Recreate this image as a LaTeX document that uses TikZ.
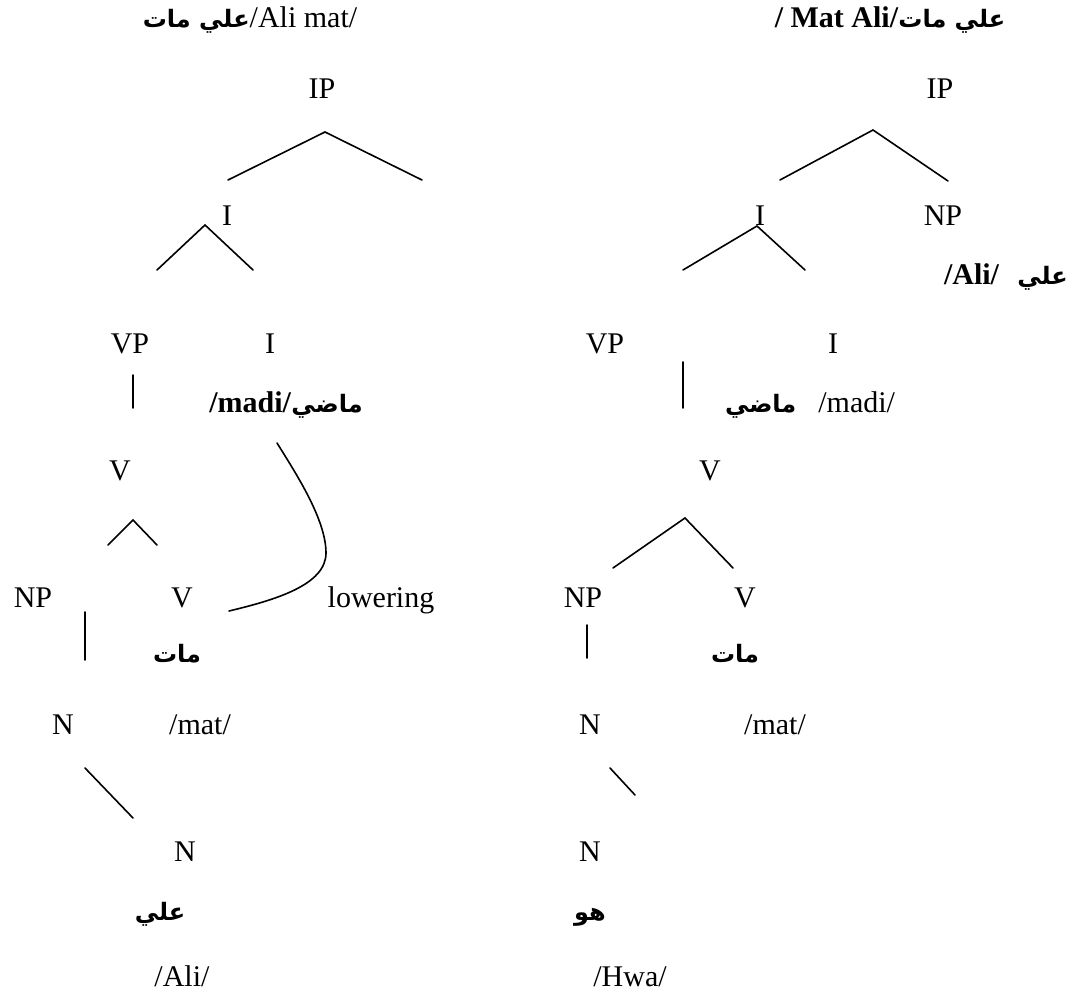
\documentclass[tikz,border=0pt]{standalone}
\usepackage{fontspec}
\setmainfont{Liberation Serif}
\newfontfamily\arabicfont[Script=Arabic]{DejaVu Sans}
\TeXXeTstate=1
\newcommand{\ar}[1]{{\arabicfont\bfseries\fontsize{24}{28}\selectfont\beginR #1\endR}}
\begin{document}
\begin{tikzpicture}[x=1pt,y=-1pt,
  lbl/.style={inner sep=0pt,anchor=base,font=\fontsize{30}{36}\selectfont},
  branch/.style={line width=1.6pt,line cap=round}]
\useasboundingbox (0,0) rectangle (1072,992);

% ---------- left tree: /Ali mat/ ----------
\node[lbl] (lt) at (250,28) {\ar{علي مات}/Ali mat/};
\node[lbl] (lip) at (322,99) {IP};
\coordinate (lipa) at (325,132);
\coordinate (lipl) at (228,180);
\coordinate (lipr) at (422,180);
\draw[branch] (lipl) -- (lipa) -- (lipr);

\node[lbl] (li) at (227,226) {I};
\coordinate (lia) at (205,225);
\coordinate (lil) at (157,270);
\coordinate (lir) at (253,270);
\draw[branch] (lil) -- (lia) -- (lir);

\node[lbl] (lvp) at (130,354) {VP};
\node[lbl] (li2) at (270,354) {I};
\node[lbl] (lmadi) at (286,413) {\textbf{/madi/}\ar{ماضي}};
\coordinate (lvpt) at (133,375);
\coordinate (lvpb) at (133,408);
\draw[branch] (lvpt) -- (lvpb);

\node[lbl] (lv) at (120,481) {V};
\coordinate (lva) at (133,520);
\coordinate (lvl) at (108,545);
\coordinate (lvr) at (157,545);
\draw[branch] (lvl) -- (lva) -- (lvr);

\node[lbl] (lnp) at (33,607) {NP};
\node[lbl] (lv2) at (182,607) {V};
\node[lbl] (low) at (381,607) {lowering};
\coordinate (lnpt) at (85,612);
\coordinate (lnpb) at (85,660);
\draw[branch] (lnpt) -- (lnpb);

% lowering path from the inflection head down to the verb
\coordinate (lws) at (277,443);
\coordinate (lwm) at (326,553);
\coordinate (lwe) at (229,611);
\draw[branch] (lws) .. controls (297,475) and (326,520) .. (lwm)
  .. controls (326,585) and (275,600) .. (lwe);

\node[lbl] (lmat) at (177,662) {\ar{مات}};
\node[lbl] (ln) at (63,734) {N};
\node[lbl] (lmatl) at (200,734) {/mat/};
\coordinate (lnt) at (85,768);
\coordinate (lnb) at (133,818);
\draw[branch] (lnt) -- (lnb);

\node[lbl] (ln2) at (185,861) {N};
\node[lbl] (lali) at (160,920) {\ar{علي}};
\node[lbl] (lalil) at (182,986) {/Ali/};

% ---------- right tree: /Mat Ali/ ----------
\node[lbl] (rt) at (890,28) {\textbf{/ Mat Ali/}\ar{علي مات}};
\node[lbl] (rip) at (940,99) {IP};
\coordinate (ripa) at (873,130);
\coordinate (ripl) at (780,180);
\coordinate (ripr) at (948,181);
\draw[branch] (ripl) -- (ripa) -- (ripr);

\node[lbl] (ri) at (760,226) {I};
\node[lbl] (rnp) at (943,226) {NP};
\node[lbl,anchor=base east] (rali) at (1068,285) {\textbf{/Ali/}\hspace{18pt}\ar{علي}};
\coordinate (ria) at (757,226);
\coordinate (ril) at (683,270);
\coordinate (rir) at (805,270);
\draw[branch] (ril) -- (ria) -- (rir);

\node[lbl] (rvp) at (605,354) {VP};
\node[lbl] (ri2) at (833,354) {I};
\node[lbl] (rmadi) at (810,413) {\ar{ماضي}\hspace{22pt}/madi/};
\coordinate (rvpt) at (683,362);
\coordinate (rvpb) at (683,408);
\draw[branch] (rvpt) -- (rvpb);

\node[lbl] (rv) at (710,481) {V};
\coordinate (rva) at (685,518);
\coordinate (rvl) at (613,568);
\coordinate (rvr) at (733,568);
\draw[branch] (rvl) -- (rva) -- (rvr);

\node[lbl] (rnp2) at (583,607) {NP};
\node[lbl] (rv2) at (745,607) {V};
\coordinate (rnpt) at (587,625);
\coordinate (rnpb) at (587,658);
\draw[branch] (rnpt) -- (rnpb);

\node[lbl] (rmat) at (735,662) {\ar{مات}};
\node[lbl] (rn) at (590,734) {N};
\node[lbl] (rmatl) at (775,734) {/mat/};
\coordinate (rnt) at (610,768);
\coordinate (rnb) at (635,795);
\draw[branch] (rnt) -- (rnb);

\node[lbl] (rn2) at (590,861) {N};
\node[lbl] (rhwa) at (590,920) {\ar{هو}};
\node[lbl] (rhwal) at (630,986) {/Hwa/};
\end{tikzpicture}
\end{document}
